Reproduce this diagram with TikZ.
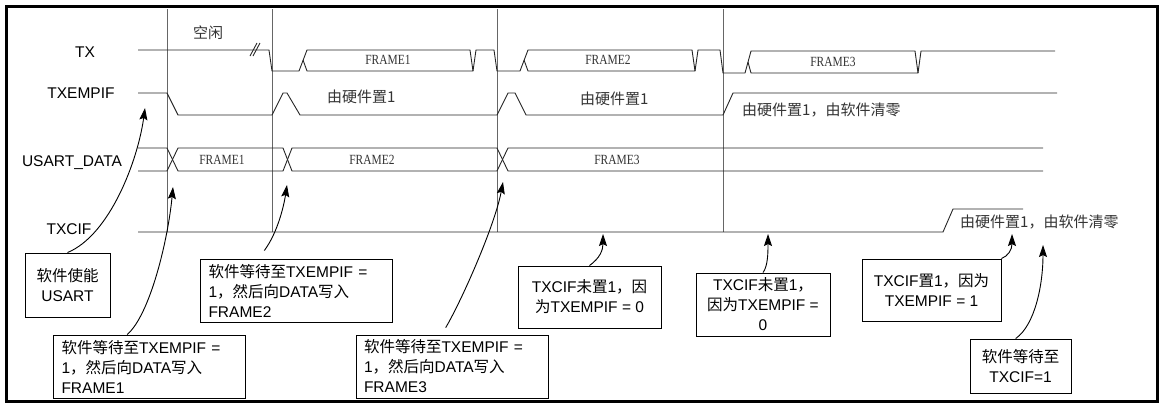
\documentclass[tikz,border=0pt]{standalone}
\usepackage{fontspec}
\setmainfont{Liberation Sans}
\newfontfamily\zh{Noto Sans CJK SC}
\newfontfamily\frm{Liberation Serif}
\usetikzlibrary{arrows.meta}
\newcommand{\fr}[1]{\scalebox{0.82}[1]{#1}}

\begin{document}
\begin{tikzpicture}[
  x=1pt, y=-1pt,
  >={Stealth[length=12pt,width=8pt,inset=2pt]},
  sig/.style={line width=0.9pt, draw=black!85},
  vline/.style={line width=0.9pt, draw=black!60},
  lbl/.style={font=\fontsize{15.5}{18}\selectfont},
  frm/.style={font=\frm\fontsize{14}{16}\selectfont, text=black!80},
  ann/.style={font=\zh\fontsize{15}{17}\selectfont, anchor=west, inner sep=0pt, text=black!80},
  note/.style={draw, line width=0.9pt, font=\fontsize{15.5}{20}\selectfont, align=center, inner sep=4pt},
  notel/.style={note, align=left, inner xsep=8pt, text width=176pt, minimum height=63pt},
  arr/.style={->, line width=0.9pt}]

\useasboundingbox (0,0) rectangle (1161,410);
\draw[line width=3pt] (6,6) rectangle (1157,401);

% time marks
\foreach \x in {167,272,497,723}
  \draw[vline] (\x,9) -- (\x,232);

% signal names
\node[lbl] (nTX)  at (85,52)  {TX};
\node[lbl] (nEMP) at (81,93)  {TXEMPIF};
\node[lbl] (nDAT) at (72,163) {USART\_DATA};
\node[lbl] (nTC)  at (69,229) {TXCIF};

% TX
\draw[sig] (138,50) -- (269,50) -- (272,71) -- (299,71) -- (307,50) -- (470,50) -- (473,71);
\draw[sig] (303,60) -- (307,71) -- (473,71) -- (476,50) -- (494,50) -- (497,71) -- (520,71)
  -- (528,50) -- (692,50) -- (695,71);
\draw[sig] (524,60) -- (528,71) -- (695,71) -- (698,50) -- (720,50) -- (723,73) -- (745,73)
  -- (751,51) -- (915,51) -- (918,73);
\draw[sig] (748,62) -- (751,73) -- (918,73) -- (921,51) -- (1055,51);
\draw[sig] (250,56) -- (257,43) (253,56) -- (260,43);
\node[frm] (f1tx) at (388,60) {\fr{FRAME1}};
\node[frm] (f2tx) at (608,60) {\fr{FRAME2}};
\node[frm] (f3tx) at (833,62) {\fr{FRAME3}};

% TXEMPIF
\draw[sig] (138,93) -- (167,93) -- (178,115) -- (272,115) -- (283,93) -- (287,93) -- (300,115)
  -- (497,115) -- (508,93) -- (515,93) -- (526,115) -- (723,115) -- (733,93) -- (1057,93);

% USART_DATA
\draw[sig] (138,148) -- (167,148) -- (178,171) -- (283,171) -- (292,148) -- (497,148) -- (508,171) -- (1043,171);
\draw[sig] (138,171) -- (167,171) -- (178,148) -- (283,148) -- (292,171) -- (497,171) -- (508,148) -- (1043,148);
\node[frm] (f1d) at (222,160) {\fr{FRAME1}};
\node[frm] (f2d) at (372,160) {\fr{FRAME2}};
\node[frm] (f3d) at (617,160) {\fr{FRAME3}};

% TXCIF
\draw[sig] (138,232) -- (943,232) -- (953,209) -- (1023,209);

% annotations
\node[ann] (idle) at (193,33)  {空闲};
\node[ann] (hw1)  at (327,97)  {由硬件置1};
\node[ann] (hw2)  at (580,99)  {由硬件置1};
\node[ann] (hw3)  at (742,110) {由硬件置1，由软件清零};
\node[ann] (hw4)  at (960,222) {由硬件置1，由软件清零};

% points on the waveforms
\coordinate (pEn) at (145,108);
\coordinate (pW1) at (173,187);
\coordinate (pW2) at (287,185);
\coordinate (pW3) at (503,182);
\coordinate (pC1) at (603,234);
\coordinate (pC2) at (768,234);
\coordinate (pC3) at (1012,234);
\coordinate (pC4) at (1043,245);

% notes
\node[note, minimum width=85pt, minimum height=64pt] (en) at (67.5,285) {{\zh 软件使能}\\USART};
\node[notel] (w1) at (149.5,366.5) {{\zh 软件等待至}TXEMPIF =\\1{\zh ，然后向}DATA{\zh 写入}\\FRAME1};
\node[notel] (w2) at (296.5,290.5) {{\zh 软件等待至}TXEMPIF =\\1{\zh ，然后向}DATA{\zh 写入}\\FRAME2};
\node[notel] (w3) at (452,366.5)   {{\zh 软件等待至}TXEMPIF =\\1{\zh ，然后向}DATA{\zh 写入}\\FRAME3};
\node[note, minimum width=143pt, minimum height=62pt] (c1) at (589.5,297) {TXCIF{\zh 未置}1{\zh ，因}\\{\zh 为}TXEMPIF = 0};
\node[note, minimum width=134pt, minimum height=63pt] (c2) at (763,304.5) {TXCIF{\zh 未置}1{\zh ，}\\{\zh 因为}TXEMPIF =\\0};
\node[note, minimum width=139pt, minimum height=62pt] (c3) at (931.5,290) {TXCIF{\zh 置}1{\zh ，因为}\\TXEMPIF = 1};
\node[note, minimum width=101pt, minimum height=54pt] (c4) at (1020.5,366) {{\zh 软件等待至}\\TXCIF=1};

% pointers
\draw[arr] (en.north) .. controls (110,235) and (138,160) .. (pEn);
\draw[arr] (w1.125) .. controls (150,315) and (168,240) .. (pW1);
\draw[arr, shorten <=10pt] (w2.140) .. controls (278,232) and (284,205) .. (pW2);
\draw[arr, shorten <=8pt] (w3.108) .. controls (462,300) and (495,225) .. (pW3);
\draw[arr] (c1.north) .. controls (600,258) and (603,250) .. (pC1);
\draw[arr] (c2.north) .. controls (768,266) and (768,252) .. (pC2);
\draw[arr] (c3.north east) .. controls (1008,256) and (1012,250) .. (pC3);
\draw[arr] (c4.100) .. controls (1035,325) and (1043,285) .. (pC4);

\end{tikzpicture}
\end{document}
